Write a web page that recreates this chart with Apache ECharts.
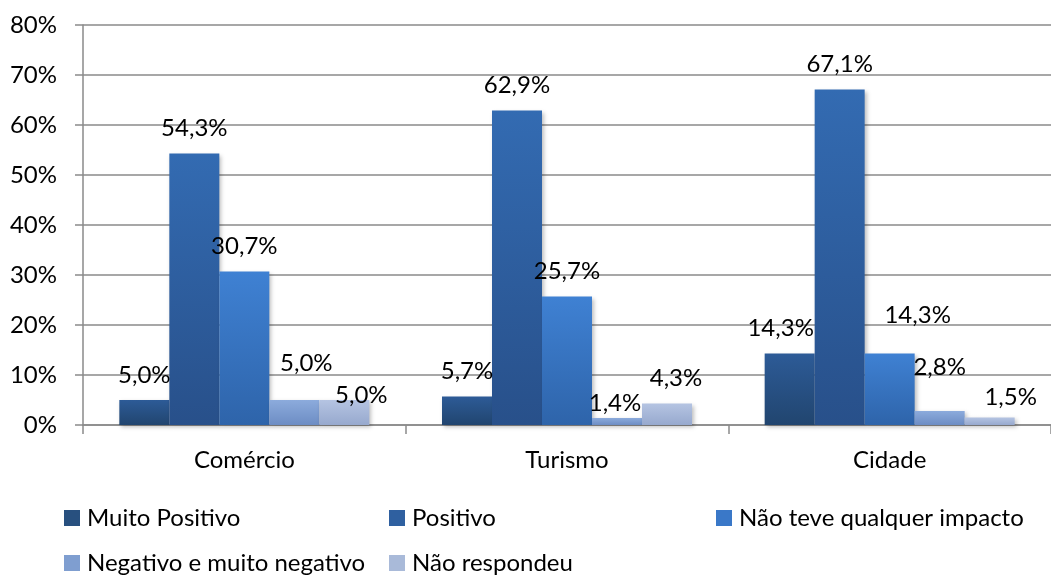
<!DOCTYPE html>
<html>
<head>
<meta charset="utf-8">
<script src="https://cdn.jsdelivr.net/npm/echarts@6/dist/echarts.min.js"></script>
<style>
  html, body { margin: 0; padding: 0; background: #fff; }
  #chart { width: 1051px; height: 575px; }
</style>
</head>
<body>
<div id="chart"></div>
<script>
const categories = ["Comércio", "Turismo", "Cidade"];
const seriesNames = [
  "Muito Positivo",
  "Positivo",
  "Não teve qualquer impacto",
  "Negativo e muito negativo",
  "Não respondeu"
];
const muitoPositivo = [5.0, 5.7, 14.3];
const positivo = [54.3, 62.9, 67.1];
const naoTeveImpacto = [30.7, 25.7, 14.3];
const negativo = [5.0, 1.4, 2.8];
const naoRespondeu = [5.0, 4.3, 1.5];
const yTicks = [0, 10, 20, 30, 40, 50, 60, 70, 80];

const seriesData = [muitoPositivo, positivo, naoTeveImpacto, negativo, naoRespondeu];

// cores (topo, base) de cada serie
const colors = [
  ["#2d5b97", "#21456f"],
  ["#336bb2", "#28508a"],
  ["#3f81d3", "#2e64aa"],
  ["#8cabdc", "#6d8dc4"],
  ["#b5c4e2", "#97a9ce"]
];
const legendColors = ["#28507f", "#2f60a0", "#3a78c8", "#7f9ed0", "#a9bad9"];

// rotulos que o Excel deslocou (serie, categoria) -> [dx, dy]
const labelNudge = {
  "3,0": [12, -12],
  "4,0": [17, 20],
  "3,1": [-2, 10],
  "4,1": [9, 0],
  "0,2": [-9, 0],
  "2,2": [28, -13],
  "3,2": [0, -19],
  "4,2": [21, 5]
};

const font = "Lato, 'Noto Sans', sans-serif";
const fs = 24;

function fmt(v) {
  return v.toFixed(1).replace(".", ",") + "%";
}

const chart = echarts.init(document.getElementById("chart"));

let series = seriesData.map((data, i) => ({
  name: seriesNames[i],
  type: "bar",
  data: data.map((v, j) => {
    let n = labelNudge[i + "," + j];
    return n ? { value: v, label: { offset: n } } : v;
  }),
  barWidth: 50,
  barGap: "0%",
  itemStyle: {
    color: new echarts.graphic.LinearGradient(0, 0, 0, 1, [
      { offset: 0, color: colors[i][0] },
      { offset: 1, color: colors[i][1] }
    ]),
    shadowColor: "rgba(0,0,0,0.25)",
    shadowBlur: 4,
    shadowOffsetX: 2,
    shadowOffsetY: 2
  },
  label: {
    show: true,
    position: "top",
    distance: 13,
    color: "#000",
    fontSize: fs,
    fontFamily: font,
    formatter: p => fmt(p.value)
  }
}));

// legenda: posicoes como no original
const legendPos = [
  { left: 64, top: 506 },
  { left: 389, top: 506 },
  { left: 716, top: 506 },
  { left: 64, top: 551 },
  { left: 389, top: 551 }
];
let legends = seriesNames.map((n, i) => ({
  data: [{ name: n, itemStyle: { color: legendColors[i] } }],
  left: legendPos[i].left,
  top: legendPos[i].top,
  icon: "rect",
  itemWidth: 16,
  itemHeight: 16,
  padding: 0,
  textStyle: { fontSize: fs, color: "#000", fontFamily: font, padding: [0, 0, 4, 2] }
}));

const option = {
  animation: false,
  backgroundColor: "#fff",
  grid: { left: 83, right: -10, top: 25, bottom: 150 },
  legend: legends,
  xAxis: {
    type: "category",
    data: categories,
    axisLine: { lineStyle: { color: "#8a8a8a", width: 1.5 } },
    axisTick: { show: true, length: 9, lineStyle: { color: "#8a8a8a", width: 1.5 } },
    axisLabel: { color: "#000", fontSize: fs, fontFamily: font, margin: 23 }
  },
  yAxis: {
    type: "value",
    min: yTicks[0],
    max: yTicks[yTicks.length - 1],
    interval: 10,
    axisLine: { show: true, lineStyle: { color: "#8a8a8a", width: 1.5 } },
    axisTick: { show: true, length: 8, lineStyle: { color: "#8a8a8a", width: 1.5 } },
    splitLine: { lineStyle: { color: "#8a8a8a", width: 1.5 } },
    axisLabel: { color: "#000", fontSize: fs, fontFamily: font, margin: 26, formatter: v => v + "%" }
  },
  series: series
};

chart.setOption(option);
</script>
</body>
</html>
